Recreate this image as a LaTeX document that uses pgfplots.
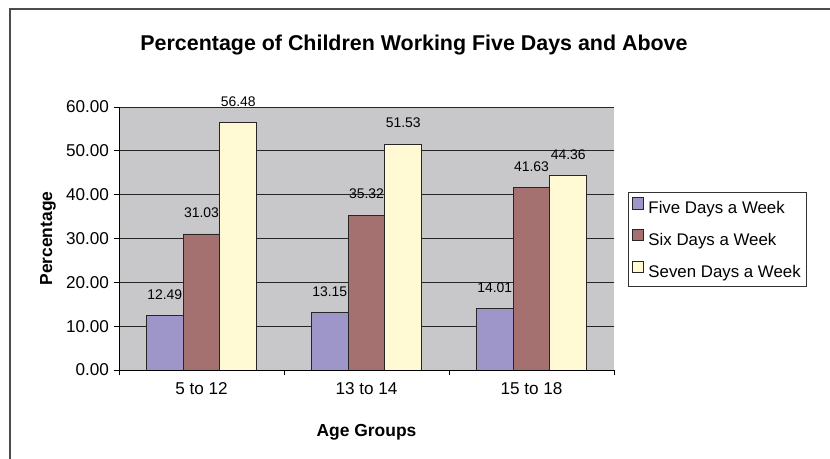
\documentclass[border=0pt]{standalone}
\usepackage{pgfplots}
\pgfplotsset{compat=1.18}
\usepackage{fontspec}
\setmainfont{Liberation Sans}
\definecolor{cfive}{HTML}{9E96C8}
\definecolor{csix}{HTML}{A47070}
\definecolor{cseven}{HTML}{FFFAD4}
\definecolor{cbg}{HTML}{C8C8CA}
\begin{document}
\begin{tikzpicture}[x=1bp,y=1bp]
\useasboundingbox (0,0) rectangle (830,459);
\draw[line width=1.6bp, black!70] (10,0) -- (10,450) -- (830,450);
\node[font=\fontsize{21.5}{24}\selectfont\bfseries] at (414,414) {Percentage of Children Working Five Days and Above};
\begin{axis}[
  at={(119bp,89bp)}, anchor=south west,
  scale only axis, width=495bp, height=263bp,
  ybar=0pt, bar width=36.7bp,
  xmin=-0.5, xmax=2.5, ymin=0, ymax=60,
  xtick={-0.5,0.5,1.5,2.5},
  x tick label as interval,
  xticklabels={5 to 12,13 to 14,15 to 18},
  ytick={0,10,20,30,40,50,60},
  /pgf/number format/.cd, fixed, fixed zerofill, precision=2, assume math mode=true,
  /pgfplots/.cd,
  axis x line*=bottom, axis y line*=left,
  axis line style={-, black, line width=0.9bp},
  tick align=outside, major tick length=5.5bp,
  tick style={black, line width=0.9bp},
  ymajorgrids, major grid style={black!85, line width=0.8bp},
  axis background/.style={fill=cbg},
  tick label style={font=\fontsize{17.2}{19}\selectfont},
  x tick label style={yshift=-4bp},
  y tick label style={xshift=-1bp},
  ylabel={Percentage}, xlabel={Age Groups},
  label style={font=\fontsize{17.5}{20}\selectfont\bfseries},
  ylabel style={at={(axis description cs:-0.1434,0.5)}, anchor=center},
  xlabel style={at={(axis description cs:0.5,-0.2357)}, anchor=center},
  nodes near coords,
  every node near coord/.append style={font=\fontsize{14}{15}\selectfont, anchor=center, yshift=21bp},
  nodes near coords={\pgfmathprintnumber[fixed,fixed zerofill,precision=2,assume math mode=true]{\pgfplotspointmeta}},
  legend cell align=left,
  legend image code/.code={\draw[#1] (0bp,-0.5bp) rectangle (11bp,11bp);},
  legend style={at={(rel axis cs:1.028,0.677)}, anchor=north west, draw=black!80, fill=white,
    font=\fontsize{16.9}{19}\selectfont, row sep=11.5bp, column sep=3bp, inner xsep=3.5bp, inner ysep=5bp},
]
\addplot[fill=cfive, draw=black!85, line width=0.9bp] coordinates {(0,12.49) (1,13.15) (2,14.01)};
\addplot[fill=csix, draw=black!85, line width=0.9bp] coordinates {(0,31.03) (1,35.32) (2,41.63)};
\addplot[fill=cseven, draw=black!85, line width=0.9bp] coordinates {(0,56.48) (1,51.53) (2,44.36)};
\legend{Five Days a Week, Six Days a Week, Seven Days a Week}
\end{axis}
\end{tikzpicture}
\end{document}
